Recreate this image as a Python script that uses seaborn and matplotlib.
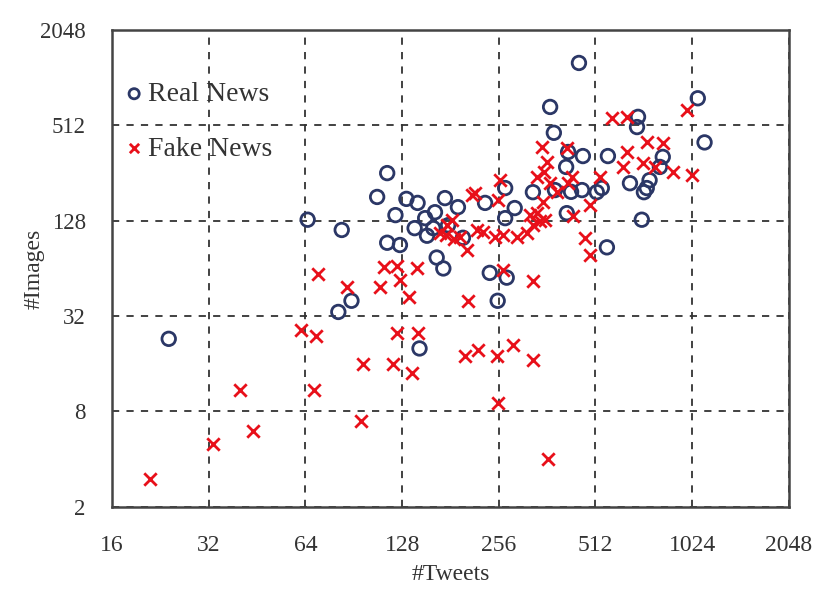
import matplotlib
matplotlib.use("Agg")
import matplotlib.pyplot as plt
import pandas as pd
import seaborn as sns
from matplotlib.ticker import FixedLocator, FixedFormatter, NullLocator

# values (#tweets, #images per news item)
real_tweets = [24, 65, 83, 81, 89, 107, 115, 115, 126, 122, 132, 143, 140, 145,
               151, 160, 153, 162, 174, 178, 191, 198, 164, 172, 232, 268, 287,
               268, 240, 254, 271, 327, 455, 370, 380, 421, 468, 415, 560, 695,
               690, 1067, 1120, 830, 813, 656, 740, 714, 556, 417, 536, 517, 465,
               755, 725, 383, 430]
real_images = [23, 130, 112, 34, 40, 181, 256, 93, 90, 139, 176, 166, 115, 20,
               133, 115, 103, 145, 178, 120, 156, 100, 75, 64, 166, 206, 154,
               133, 60, 40, 56, 194, 1270, 670, 460, 348, 328, 280, 328, 580,
               500, 760, 400, 324, 280, 221, 206, 130, 87, 143, 206, 194, 200,
               231, 194, 200, 195]

fake_tweets = [70, 86, 109, 112, 126, 142, 134, 62, 69, 123, 143, 97, 120, 137,
               40, 68, 95, 44, 33, 21, 205, 263, 327, 201, 220, 253, 283, 327,
               254, 365, 475, 491, 576, 642, 990, 349, 362, 417, 433, 337, 370,
               388, 421, 352, 337, 327, 357, 258, 254, 216, 249, 263, 292, 313,
               345, 435, 491, 529, 219, 229, 194, 204, 168, 183, 211, 176, 623,
               642, 740, 829, 719, 784, 891, 1020, 186, 175, 354, 320, 123]
fake_images = [59, 49, 49, 65, 54, 64, 42, 26, 24, 25, 25, 16, 16, 14,
               11, 11, 7, 6, 5, 3, 40, 63, 53, 18, 19.5, 18, 21, 17,
               9, 4, 100, 78, 570, 580, 640, 374, 300, 369, 242, 242, 221,
               194, 221, 168, 143, 120, 130, 232, 173, 191, 101, 104, 101, 107,
               128, 137, 161, 242, 112, 109, 101, 84, 107, 130, 186, 121, 280,
               348, 402, 396, 296, 280, 260, 249, 98, 104, 260, 140, 66]

real = pd.DataFrame({"tweets": real_tweets, "images": real_images})
fake = pd.DataFrame({"tweets": fake_tweets, "images": fake_images})

sns.set_theme(style="white")
plt.rcParams["font.family"] = ["Liberation Serif", "DejaVu Serif"]

fig = plt.figure(figsize=(8.19, 5.9), dpi=100)
ax = fig.add_axes([0.137, 0.141, 0.826, 0.808])

sns.scatterplot(data=real, x="tweets", y="images", ax=ax, marker="o", s=95,
                facecolor="none", edgecolor="#2b3766", linewidth=2.0,
                label="Real News", zorder=3)
sns.scatterplot(data=fake, x="tweets", y="images", ax=ax, marker="x", s=80,
                color="#e8101a", linewidth=2.0, label="Fake News", zorder=3)

ax.set_xscale("log", base=2)
ax.set_yscale("log", base=2)
ax.set_xlim(16, 2048)
ax.set_ylim(2, 2048)

xt = [16, 32, 64, 128, 256, 512, 1024, 2048]
yt = [2, 8, 32, 128, 512, 2048]
ax.xaxis.set_major_locator(FixedLocator(xt))
ax.xaxis.set_major_formatter(FixedFormatter([str(v) for v in xt]))
ax.yaxis.set_major_locator(FixedLocator(yt))
ax.yaxis.set_major_formatter(FixedFormatter([str(v) for v in yt]))
ax.xaxis.set_minor_locator(NullLocator())
ax.yaxis.set_minor_locator(NullLocator())

ax.grid(True, linestyle=(0, (4, 4)), color="#333333", linewidth=1.3, zorder=0)
ax.set_axisbelow(True)
for sp in ax.spines.values():
    sp.set_color("#444444")
    sp.set_linewidth(1.8)
ax.tick_params(axis="x", length=0, labelsize=17, colors="#333333", pad=20)
ax.tick_params(axis="y", length=0, labelsize=16.5, colors="#333333", pad=19)

ax.set_xlabel("#Tweets", fontsize=17, color="#333333", labelpad=6)
ax.set_ylabel("#Images", fontsize=17, color="#333333", labelpad=-3)

leg = ax.legend(loc="upper left", bbox_to_anchor=(0.016, 0.892), frameon=False,
                fontsize=20, labelspacing=1.05, handletextpad=0.1,
                handlelength=0.8, borderaxespad=0.0, borderpad=0.0,
                markerscale=0.75)
for t in leg.get_texts():
    t.set_color("#333333")

fig.savefig("out.png", dpi=100)
